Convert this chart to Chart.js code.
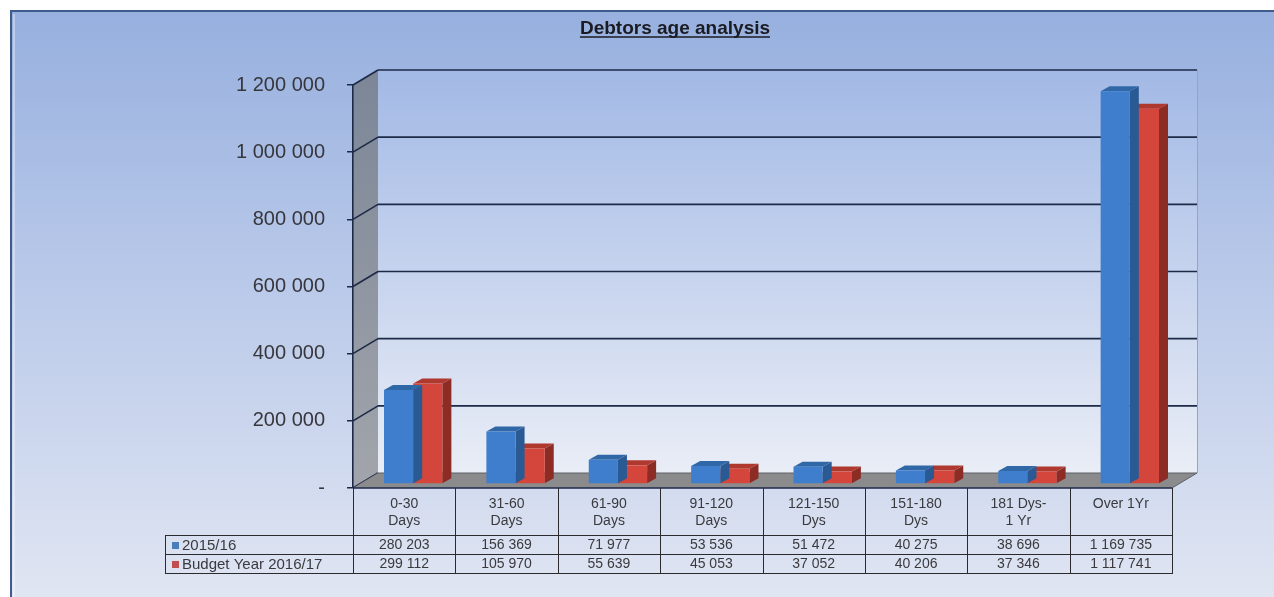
<!DOCTYPE html>
<html>
<head>
<meta charset="utf-8">
<script src="https://cdn.jsdelivr.net/npm/chart.js@4.4.1/dist/chart.umd.min.js"></script>
<style>
html,body{margin:0;padding:0;background:#fff;}
canvas{display:block;}
</style>
</head>
<body>
<canvas id="c" width="1274" height="597"></canvas>
<script>
// ---------- data ----------
const chartTitle = 'Debtors age analysis';
const categories = [
  ['0-30', 'Days'], ['31-60', 'Days'], ['61-90', 'Days'], ['91-120', 'Days'],
  ['121-150', 'Dys'], ['151-180', 'Dys'], ['181 Dys-', '1 Yr'], ['Over 1Yr']
];
const seriesNames = ['2015/16', 'Budget Year 2016/17'];
const values2015 = [280203, 156369, 71977, 53536, 51472, 40275, 38696, 1169735];
const valuesBudget = [299112, 105970, 55639, 45053, 37052, 40206, 37346, 1117741];
const yTickValues = [0, 200000, 400000, 600000, 800000, 1000000, 1200000];

// ---------- style ----------
const fmt = n => n === 0 ? '-' : String(n).replace(/\B(?=(\d{3})+(?!\d))/g, ' ');
const WALL = { dx: 25, dy: -15 };      // depth of the 3-D box
const SHIFT = { dx: 9, dy: -4 };       // bars sit inside the box
const BAR = { dx: 9, dy: -5 };         // depth of each bar
const faces = [
  { front: '#3e7ecc', side: '#2a5a93', top: '#3067a6', key: '#4a7ebb' },
  { front: '#d4463b', side: '#8d2b25', top: '#b0392f', key: '#c0504d' }
];
const SANS = '"Liberation Sans", Arial, sans-serif';

function line(ctx, x1, y1, x2, y2) {
  ctx.beginPath(); ctx.moveTo(x1, y1); ctx.lineTo(x2, y2); ctx.stroke();
}
function poly(ctx, pts, fill) {
  ctx.beginPath();
  ctx.moveTo(pts[0][0], pts[0][1]);
  for (let i = 1; i < pts.length; i++) ctx.lineTo(pts[i][0], pts[i][1]);
  ctx.closePath();
  ctx.fillStyle = fill; ctx.fill();
}

const scene = {
  id: 'scene',
  beforeDraw(chart) {
    const { ctx, chartArea: a, width: W, height: H } = chart;
    const ys = chart.scales.y;
    ctx.save();
    ctx.fillStyle = '#fff';
    ctx.fillRect(0, 0, W, H);
    // outer frame
    const g = ctx.createLinearGradient(0, 11, 0, H);
    g.addColorStop(0, '#97b0df');
    g.addColorStop(0.5, '#bccbea');
    g.addColorStop(1, '#e0e5f2');
    ctx.fillStyle = g;
    ctx.fillRect(10, 11, W - 10, H - 11);
    ctx.strokeStyle = 'rgba(255,255,255,0.35)';
    ctx.lineWidth = 2;
    line(ctx, 14, 14, 14, H);
    ctx.strokeStyle = '#3f5b8c';
    ctx.lineWidth = 2;
    line(ctx, 10, 11, W, 11);
    line(ctx, 11, 11, 11, H);

    const L = a.left, R = a.right;
    const yT = ys.getPixelForValue(ys.max);
    const y0 = ys.getPixelForValue(0);
    const dx = WALL.dx, dy = WALL.dy;

    // back wall
    const bw = ctx.createLinearGradient(0, yT + dy, 0, y0 + dy);
    bw.addColorStop(0, '#a2b9e5');
    bw.addColorStop(0.5, '#c6d3ee');
    bw.addColorStop(1, '#e9edf6');
    ctx.fillStyle = bw;
    ctx.fillRect(L + dx, yT + dy, R - L, y0 - yT);

    // side wall
    const sw = ctx.createLinearGradient(0, yT, 0, y0);
    sw.addColorStop(0, '#7d8798');
    sw.addColorStop(1, '#a2a5ab');
    poly(ctx, [[L, yT], [L + dx, yT + dy], [L + dx, y0 + dy], [L, y0]], sw);

    // right edge of back wall
    ctx.strokeStyle = '#9aa4b8';
    ctx.lineWidth = 1;
    line(ctx, R + dx + 0.5, yT + dy, R + dx + 0.5, y0 + dy);

    // gridlines on walls
    ctx.strokeStyle = '#1d2a47';
    ctx.lineWidth = 1.6;
    yTickValues.forEach(v => {
      const yf = ys.getPixelForValue(v);
      line(ctx, L, yf, L + dx, yf + dy);
      if (v !== 0) line(ctx, L + dx, yf + dy, R + dx, yf + dy);
    });

    // floor
    poly(ctx, [[L, y0], [R, y0], [R + dx, y0 + dy], [L + dx, y0 + dy]], '#8b8b8d');
    ctx.strokeStyle = '#5f6066';
    ctx.lineWidth = 1;
    line(ctx, L + dx, y0 + dy, R + dx, y0 + dy);
    line(ctx, R, y0, R + dx, y0 + dy);
    ctx.strokeStyle = '#1d2a47';
    ctx.lineWidth = 1.6;
    line(ctx, L, y0, R, y0);
    ctx.restore();
  },
  beforeDatasetDraw(chart, args) {
    const ctx = chart.ctx;
    const f = faces[args.index];
    ctx.save();
    ctx.translate(SHIFT.dx, SHIFT.dy);
    args.meta.data.forEach(el => {
      const { x, y, base, width } = el.getProps(['x', 'y', 'base', 'width'], true);
      const l = x - width / 2, r = x + width / 2;
      poly(ctx, [[r, base], [r, y], [r + BAR.dx, y + BAR.dy], [r + BAR.dx, base + BAR.dy]], f.side);
      poly(ctx, [[l, y], [r, y], [r + BAR.dx, y + BAR.dy], [l + BAR.dx, y + BAR.dy]], f.top);
    });
  },
  afterDatasetDraw(chart) {
    chart.ctx.restore();
  },
  afterDraw(chart) {
    const { ctx, chartArea: a } = chart;
    ctx.save();
    // title
    ctx.font = 'bold 19px ' + SANS;
    ctx.fillStyle = '#1b1b22';
    ctx.textAlign = 'center';
    ctx.textBaseline = 'alphabetic';
    const tx = 675, ty = 34;
    ctx.fillText(chartTitle, tx, ty);
    const tw = ctx.measureText(chartTitle).width;
    ctx.strokeStyle = '#1b1b22';
    ctx.lineWidth = 1.5;
    line(ctx, tx - tw / 2, ty + 3, tx + tw / 2, ty + 3);

    // data table
    const n = categories.length;
    const slot = (a.right - a.left) / n;
    const top = a.bottom;
    const hdrB = top + 47, r1B = hdrB + 19, r2B = r1B + 19;
    const tableLeft = 165;
    ctx.strokeStyle = '#2b2b2f';
    ctx.lineWidth = 1;
    for (let i = 0; i <= n; i++) {
      const x = Math.round(a.left + i * slot) + 0.5;
      line(ctx, x, top, x, r2B);
    }
    line(ctx, tableLeft + 0.5, hdrB, tableLeft + 0.5, r2B);
    [hdrB, r1B, r2B].forEach(y => line(ctx, tableLeft, y + 0.5, a.right + 1, y + 0.5));

    ctx.fillStyle = '#3a3a3e';
    ctx.font = '14px ' + SANS;
    ctx.textBaseline = 'middle';
    ctx.textAlign = 'center';
    categories.forEach((lab, i) => {
      const cx = chart.scales.x.getPixelForValue(i);
      lab.forEach((t, k) => ctx.fillText(t, cx, top + 16 + k * 17));
    });
    const rows = [values2015, valuesBudget];
    const rowY = [(hdrB + r1B) / 2 + 1, (r1B + r2B) / 2 + 1];
    rows.forEach((vals, r) => {
      ctx.font = '14px ' + SANS;
      ctx.textAlign = 'center';
      vals.forEach((v, i) => ctx.fillText(fmt(v), chart.scales.x.getPixelForValue(i), rowY[r]));
      ctx.fillStyle = faces[r].key;
      ctx.fillRect(tableLeft + 7, Math.round(rowY[r]) - 4, 7, 7);
      ctx.fillStyle = '#3a3a3e';
      ctx.textAlign = 'left';
      ctx.font = '15px ' + SANS;
      ctx.fillText(seriesNames[r], tableLeft + 17, rowY[r]);
    });
    ctx.restore();
  }
};

new Chart(document.getElementById('c'), {
  type: 'bar',
  data: {
    labels: categories,
    datasets: [
      { label: seriesNames[0], data: values2015, backgroundColor: faces[0].front, borderWidth: 0, clip: false },
      { label: seriesNames[1], data: valuesBudget, backgroundColor: faces[1].front, borderWidth: 0, clip: false }
    ]
  },
  options: {
    responsive: false,
    animation: false,
    devicePixelRatio: 1,
    layout: { padding: { left: 0, top: 85, right: 102, bottom: 109 } },
    datasets: { bar: { barPercentage: 1, categoryPercentage: 0.57 } },
    plugins: { legend: { display: false }, tooltip: { enabled: false }, title: { display: false } },
    scales: {
      x: { display: false },
      y: {
        min: 0,
        max: yTickValues[yTickValues.length - 1],
        afterBuildTicks: s => { s.ticks = yTickValues.map(v => ({ value: v })); },
        afterFit: s => { s.width = 353; },
        ticks: {
          callback: v => fmt(v),
          color: '#36363c',
          padding: 22,
          font: { family: '"Liberation Sans", Arial, sans-serif', size: 20 }
        },
        grid: { drawOnChartArea: false, drawTicks: true, tickLength: 6, color: '#1d2a47', lineWidth: 1.5 },
        border: { display: true, color: '#1d2a47', width: 1.6 }
      }
    }
  },
  plugins: [scene]
});
</script>
</body>
</html>
